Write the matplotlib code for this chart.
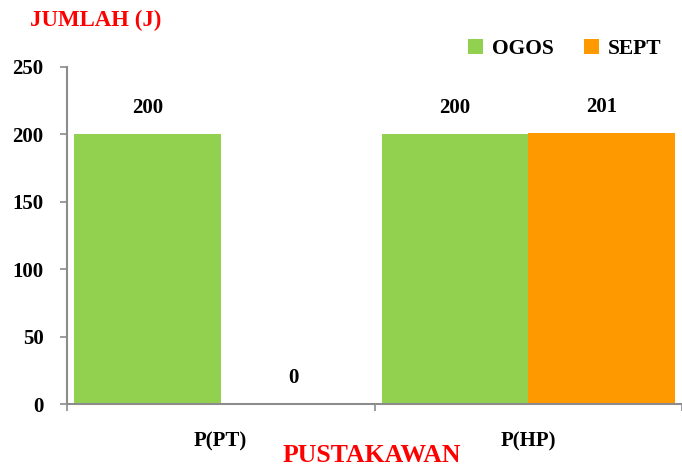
import numpy as np
import matplotlib.pyplot as plt

categories = ["P(PT)", "P(HP)"]
ogos = [200, 200]
sept = [0, 201]
series_names = ["OGOS", "SEPT"]

green = "#92D050"
orange = "#FF9900"
grey = "#8C8C8C"

plt.rcParams['font.family'] = ['Liberation Serif', 'DejaVu Serif']
plt.rcParams['font.weight'] = 'bold'

fig = plt.figure(figsize=(6.82, 4.68), dpi=100)
ax = fig.add_axes([67/682, 1 - 404/468, 1 - 67/682, (404 - 67)/468])

x = np.arange(len(categories))
w = 0.476
b1 = ax.bar(x - w/2, ogos, w, color=green, label=series_names[0])
b2 = ax.bar(x + w/2, sept, w, color=orange, label=series_names[1])

for bars, vals in [(b1, ogos), (b2, sept)]:
    for bar, v in zip(bars, vals):
        ax.text(bar.get_x() + bar.get_width()/2, v + 12, str(v),
                ha='center', va='bottom', fontsize=15, fontweight='bold')

ax.set_xlim(-0.5, 1.49)
ax.set_ylim(0, 250)
ax.set_yticks(range(0, 251, 50))
ax.tick_params(axis='y', labelsize=15, length=5, color=grey, width=1.2, pad=12)

ax.set_xticks(x)
ax.set_xticklabels(categories, fontsize=15, fontweight='bold')
ax.tick_params(axis='x', which='major', length=0, pad=20)
ax.set_xticks([-0.5, 0.5, 1.5], minor=True)
ax.tick_params(axis='x', which='minor', length=5, color=grey, width=1.2)

for s in ['top', 'right']:
    ax.spines[s].set_visible(False)
for s in ['left', 'bottom']:
    ax.spines[s].set_color(grey)
    ax.spines[s].set_linewidth(1.5)

fig.text(30/682, 1 - 20/468, "JUMLAH (J)", color='red', fontsize=16.5,
         fontweight='bold', ha='left', va='center')
fig.text(372/682, 1 - 455/468, "PUSTAKAWAN", color='red', fontsize=18.5,
         fontweight='bold', ha='center', va='center')

ax.legend(loc='upper right', bbox_to_anchor=(0.98, 1.11), ncol=2, frameon=False,
          fontsize=15.5, handlelength=0.7, handleheight=0.7, handletextpad=0.4,
          columnspacing=1.4, borderaxespad=0)

fig.savefig("out.png", dpi=100)
